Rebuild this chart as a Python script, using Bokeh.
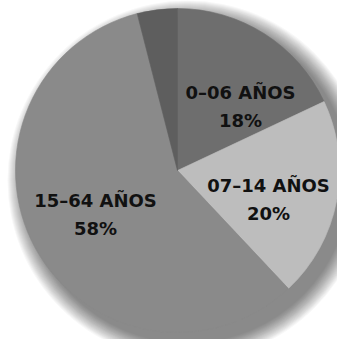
import numpy as np
from bokeh.plotting import figure
from bokeh.models import ColumnDataSource
from bokeh.core.properties import value
from bokeh.embed import file_html
from bokeh.resources import INLINE

# ---- data ----
categories = ["0–06 AÑOS", "07–14 AÑOS", "15–64 AÑOS", "65 Y MÁS AÑOS"]
shares = [18, 20, 58, 4]
pct_labels = ["18%", "20%", "58%", ""]
show_label = [True, True, True, False]
colors = ["#6e6e6e", "#bdbdbd", "#8a8a8a", "#5e5e5e"]

# ---- layout ----
W, H = 337, 339
cx, cy = 177, H - 170
R = 162
# label centres (pixel coords from top-left)
label_pos = [(240, 92), (268, 185), (95, 200), (0, 0)]

p = figure(width=W, height=H, x_range=(0, W), y_range=(0, H),
           output_backend="svg", toolbar_location=None,
           min_border=0, outline_line_color=None)
p.axis.visible = False
p.grid.visible = False
p.background_fill_color = "white"
p.border_fill_color = "white"

# soft shadow
for i in range(18):
    p.circle(x=[cx + 10], y=[cy - 10], radius=R + 18 - i,
             fill_color="black", fill_alpha=0.03, line_color=None)

tot = float(sum(shares))
cum = np.cumsum([0] + shares) / tot
start = [np.pi / 2 - 2 * np.pi * cum[i] for i in range(len(shares))]
end = [np.pi / 2 - 2 * np.pi * cum[i + 1] for i in range(len(shares))]

src = ColumnDataSource(dict(cat=categories, share=shares, start=start, end=end, color=colors))
p.wedge(x=cx, y=cy, radius=R, start_angle="start", end_angle="end",
        direction="clock", fill_color="color", line_color="color",
        line_width=0.6, source=src)

tx, ty1, ty2, t1, t2 = [], [], [], [], []
for c, pl, s, pos in zip(categories, pct_labels, show_label, label_pos):
    if not s:
        continue
    tx.append(pos[0])
    ty1.append(H - pos[1])
    ty2.append(H - pos[1] - 28)
    t1.append(c)
    t2.append(pl)

for ys, ts in ((ty1, t1), (ty2, t2)):
    p.text(x=tx, y=ys, text=ts, text_font=value("DejaVu Sans"), text_font_style="bold",
           text_font_size="18px", text_align="center", text_baseline="middle",
           text_color="#111111")

open("out.html", "w").write(file_html(p, INLINE))
